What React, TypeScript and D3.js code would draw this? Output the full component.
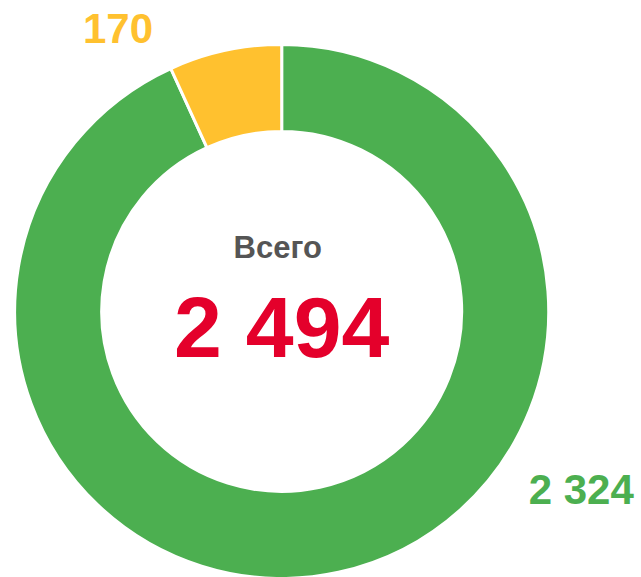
import React from "react";
import * as d3 from "d3";

const categories = ["Зелёный", "Жёлтый"];
const values = [2324, 170];
const colors = ["#4CAF50", "#FFC12F"];
const totalLabel = "Всего";

const W = 641;
const H = 577;

export default function App() {
  const cx = 281.7;
  const cy = 311.4;
  const outerR = 267;
  const innerR = 180;
  const total = d3.sum(values);
  const pie = d3.pie<number>().sort(null).value((d) => d)(values);
  const arc = d3.arc<d3.PieArcDatum<number>>().innerRadius(innerR).outerRadius(outerR);
  const fmt = (n: number) => d3.format(",")(n).replace(/,/g, " ");
  const labelPos = [
    { x: cx + outerR * 1.122, y: cy + outerR * 0.72 },
    { x: cx - outerR * 0.613, y: cy - outerR * 1.005 },
  ];
  return (
    <svg
      width={W}
      height={H}
      style={{ position: "absolute", left: 0, top: 0 }}
      fontFamily="'Liberation Sans', Arial, sans-serif"
    >
      <g transform={`translate(${cx},${cy})`}>
        {pie.map((p, i) => (
          <path key={categories[i]} d={arc(p) || ""} fill={colors[i]} stroke="#fff" strokeWidth={3} />
        ))}
      </g>
      {pie.map((p, i) => (
        <text
          key={"l" + i}
          x={labelPos[i].x}
          y={labelPos[i].y}
          textAnchor="middle"
          fontWeight="bold"
          fontSize={42}
          fill={colors[i]}
        >
          {fmt(values[i])}
        </text>
      ))}
      <text x={cx - 4} y={258} textAnchor="middle" fontWeight="bold" fontSize={31} fill="#555">
        {totalLabel}
      </text>
      <text x={cx} y={357} textAnchor="middle" fontWeight="bold" fontSize={86} fill="#E4002B">
        {fmt(total)}
      </text>
    </svg>
  );
}
